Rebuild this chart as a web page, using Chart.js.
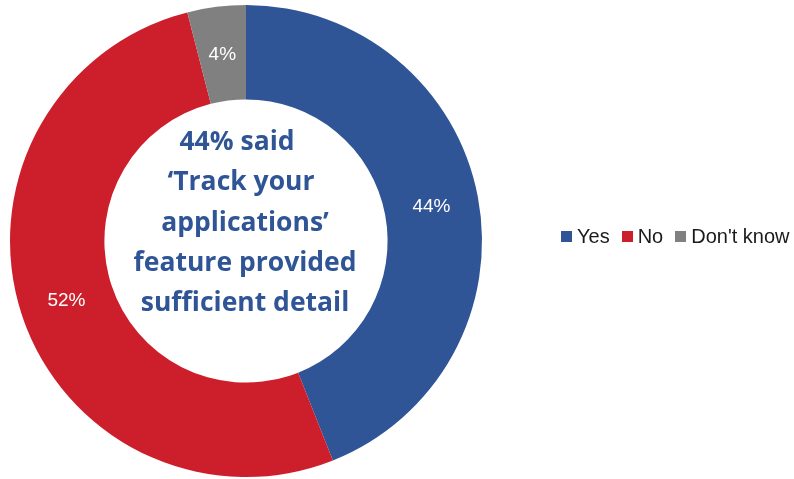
<!DOCTYPE html>
<html>
<head>
<meta charset="utf-8">
<script src="https://cdn.jsdelivr.net/npm/chart.js@4/dist/chart.umd.min.js"></script>
<style>
  html, body { margin: 0; padding: 0; background: #fff; }
  #wrap { position: relative; width: 794px; height: 479px; }
  #legend {
    position: absolute; left: 561px; top: 224px; height: 24px;
    display: flex; align-items: center; white-space: nowrap;
    font-family: "Liberation Sans", Arial, sans-serif; font-size: 20px; color: #1a1a1a;
  }
  #legend span.box { display: inline-block; width: 11px; height: 11px; margin-right: 5px; }
  #legend span.item { display: inline-flex; align-items: center; margin-right: 12px; }
</style>
</head>
<body>
<div id="wrap">
  <canvas id="dona" width="794" height="479"></canvas>
  <div id="legend"></div>
</div>
<script>
const categorias = ['Yes', 'No', "Don't know"];
const valores = [44, 52, 4];
const colores = ['#2F5597', '#CC1F2B', '#808080'];
const textoCentro = ['44% said', '\u2018Track your', 'applications\u2019', 'feature provided', 'sufficient detail'];

// etiquetas de porcentaje dentro de cada sector
const etiquetas = {
  id: 'etiquetas',
  afterDatasetsDraw(chart) {
    const ctx = chart.ctx;
    const meta = chart.getDatasetMeta(0);
    ctx.save();
    ctx.fillStyle = '#fff';
    ctx.font = '19px "Liberation Sans", Arial, sans-serif';
    ctx.textAlign = 'center';
    ctx.textBaseline = 'middle';
    meta.data.forEach((arc, i) => {
      const p = arc.tooltipPosition();
      ctx.fillText(valores[i] + '%', p.x, p.y + 1);
    });
    ctx.restore();
  }
};

// texto del centro de la dona
const centro = {
  id: 'centro',
  afterDraw(chart) {
    const ctx = chart.ctx;
    const arc = chart.getDatasetMeta(0).data[0];
    ctx.save();
    ctx.fillStyle = '#2F5597';
    ctx.font = 'bold 26.5px "Open Sans", sans-serif';
    ctx.textAlign = 'center';
    ctx.textBaseline = 'alphabetic';
    const alto = 40.25;
    const y0 = arc.y - 91;
    textoCentro.forEach((t, i) => {
      // la primera linea va un poco a la izquierda
      const dx = i === 0 ? -9 : (i === 1 ? -5 : -1);
      ctx.fillText(t, arc.x + dx, y0 + i * alto);
    });
    ctx.restore();
  }
};

let ctx = document.getElementById('dona').getContext('2d');
let myChart = new Chart(ctx, {
  type: 'doughnut',
  data: {
    labels: categorias,
    datasets: [{
      data: valores,
      backgroundColor: colores,
      borderWidth: 0
    }]
  },
  options: {
    responsive: false,
    animation: false,
    cutout: '60%',
    layout: { padding: { top: 5, bottom: 2, left: 9, right: 311 } },
    plugins: {
      legend: { display: false },
      tooltip: { enabled: false }
    }
  },
  plugins: [etiquetas, centro]
});

// leyenda en html, una sola fila
let leyenda = document.getElementById('legend');
categorias.forEach((c, i) => {
  let item = document.createElement('span');
  item.className = 'item';
  item.innerHTML = '<span class="box" style="background:' + colores[i] + '"></span>' + c;
  leyenda.appendChild(item);
});
</script>
</body>
</html>
